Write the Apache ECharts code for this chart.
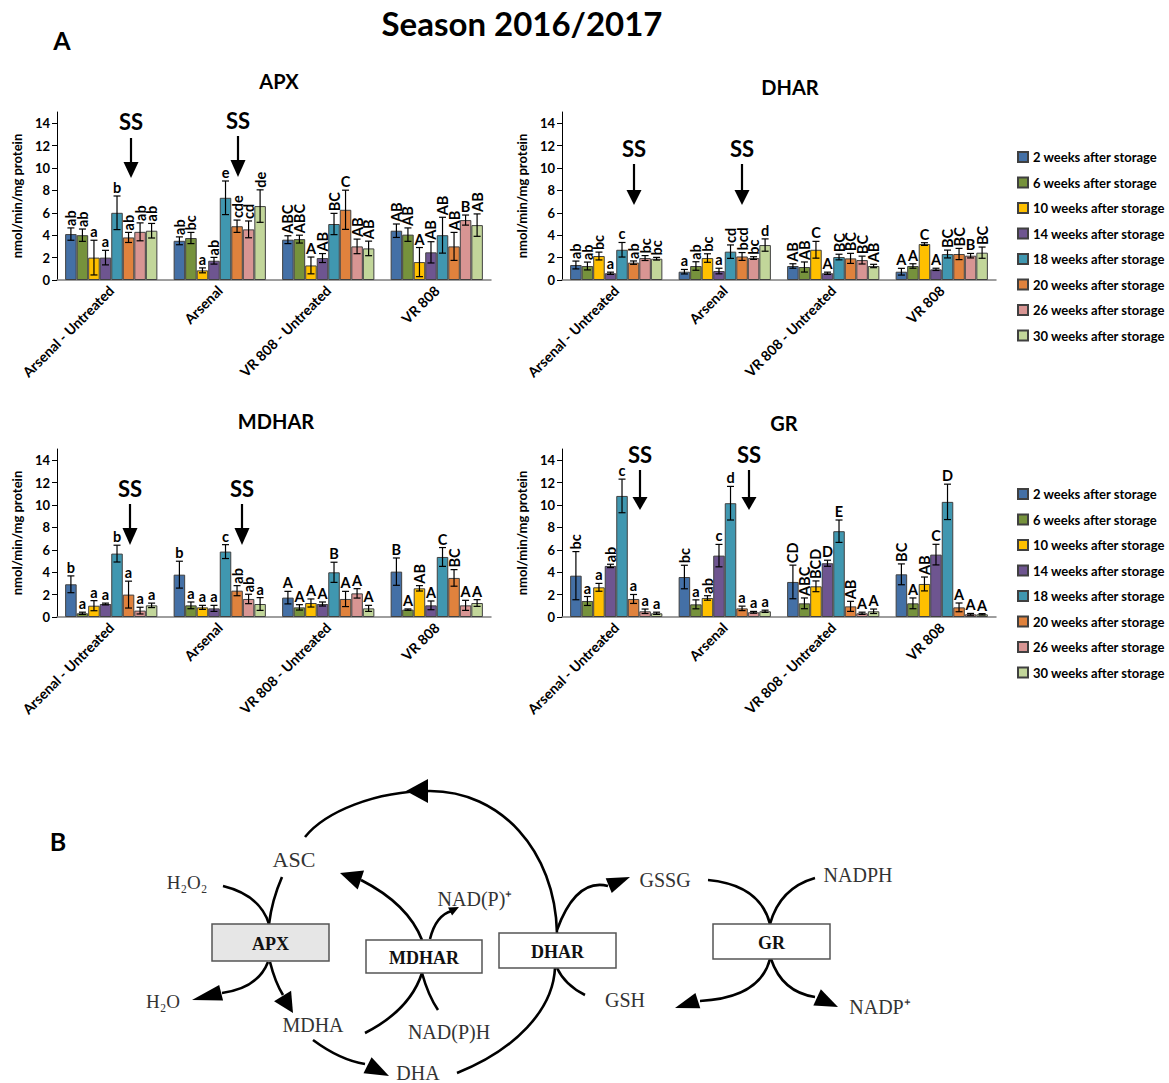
<!DOCTYPE html>
<html><head><meta charset="utf-8">
<script src="https://cdn.jsdelivr.net/npm/echarts@6/dist/echarts.min.js"></script>
<style>html,body{margin:0;padding:0;background:#fff}#c{width:1169px;height:1083px}</style>
</head><body><div id="c"></div><script>
// ---------- DATA ----------
const weeks = ['2 weeks after storage','6 weeks after storage','10 weeks after storage','14 weeks after storage','18 weeks after storage','20 weeks after storage','26 weeks after storage','30 weeks after storage'];
const groups = ['Arsenal - Untreated','Arsenal','VR 808 - Untreated','VR 808'];
const yTicks = [0,2,4,6,8,10,12,14];

// rows = weeks, columns = groups
const apxMean = [[4.1,3.5,3.6,4.4],[4.0,3.75,3.65,4.05],[2.0,0.86,1.3,1.6],[2.0,1.72,1.96,2.47],[6.0,7.34,5.0,4.0],[3.8,4.8,6.27,3.0],[4.3,4.52,3.0,5.35],[4.4,6.6,2.82,4.9]];
const apxErr = [[0.55,0.35,0.35,0.6],[0.55,0.5,0.35,0.6],[1.55,0.22,0.75,1.3],[0.65,0.3,0.4,0.95],[1.5,1.5,0.95,1.6],[0.45,0.55,1.75,1.25],[0.8,0.75,0.65,0.45],[0.65,1.45,0.65,1.0]];
const apxLetters = [['ab','ab','ABC','AB'],['ab','bc','ABC','AB'],['a','a','A','A'],['a','ab','AB','AB'],['b','e','BC','AB'],['ab','cde','C','AB'],['ab','cd','AB','B'],['ab','de','AB','AB']];

const dharMean = [[1.34,0.74,1.25,0.74],[1.25,1.25,1.16,1.25],[2.14,1.96,2.7,3.21],[0.6,0.8,0.6,0.95],[2.7,2.53,2.05,2.32],[1.55,2.1,1.93,2.32],[1.96,1.96,1.78,2.17],[1.9,3.12,1.25,2.44]];
const dharErr = [[0.35,0.2,0.2,0.3],[0.35,0.38,0.45,0.2],[0.35,0.38,0.75,0.12],[0.1,0.25,0.1,0.1],[0.65,0.6,0.25,0.35],[0.15,0.35,0.45,0.5],[0.22,0.12,0.35,0.2],[0.12,0.55,0.15,0.5]];
const dharLetters = [['ab','a','AB','A'],['ab','ab','AB','A'],['bc','bc','C','C'],['a','a','A','A'],['c','cd','BC','BC'],['ab','bcd','BC','BC'],['bc','bc','BC','B'],['bc','d','AB','BC']];

const mdharMean = [[2.92,3.78,1.73,4.05],[0.33,1.04,0.86,0.66],[1.01,0.86,1.25,2.56],[1.16,0.77,1.16,1.04],[5.66,5.84,3.99,5.36],[2.0,2.35,1.61,3.49],[0.57,1.61,2.11,1.04],[1.04,1.16,0.77,1.25]];
const mdharErr = [[0.75,1.2,0.56,1.22],[0.1,0.3,0.24,0.06],[0.45,0.18,0.36,0.24],[0.08,0.27,0.18,0.39],[0.75,0.62,0.9,0.84],[1.2,0.45,0.68,0.74],[0.3,0.42,0.42,0.45],[0.2,0.57,0.27,0.3]];
const mdharLetters = [['b','b','A','B'],['a','a','A','A'],['a','a','A','AB'],['a','a','A','A'],['b','c','B','C'],['a','ab','A','BC'],['a','ab','A','A'],['a','a','A','A']];

const grMean = [[3.69,3.57,3.13,3.81],[1.43,1.13,1.22,1.22],[2.65,1.7,2.74,2.95],[4.56,5.48,4.8,5.57],[10.81,10.16,7.66,10.28],[1.61,0.77,0.95,0.86],[0.51,0.42,0.33,0.24],[0.33,0.51,0.51,0.24]];
const grErr = [[2.15,1.05,1.5,0.93],[0.4,0.4,0.48,0.48],[0.35,0.2,0.48,0.62],[0.15,1.0,0.27,0.92],[1.5,1.5,1.0,1.58],[0.4,0.2,0.45,0.39],[0.2,0.08,0.1,0.08],[0.1,0.1,0.2,0.06]];
const grLetters = [['bc','bc','CD','BC'],['a','a','ABC','A'],['a','ab','BCD','AB'],['ab','c','D','C'],['c','d','E','D'],['a','a','AB','A'],['a','a','A','A'],['a','a','A','A']];

// ---------- STYLE ----------
const colors = ['#4470A6','#76923C','#FFC000','#6E5590','#4097B0','#E0823D','#D89593','#C2D69A'];
const SANS = 'Lato';
const SERIF = 'Liberation Serif';
const BAR_FRAC = 0.85;

const panels = [
  {title:'APX', mean:apxMean, err:apxErr, letters:apxLetters, left:57, top:112, tx:279, ty:81, ss:[[131,121,138,162,178],[238,120,136,160,177]]},
  {title:'DHAR', mean:dharMean, err:dharErr, letters:dharLetters, left:562, top:112, tx:790, ty:87, ss:[[634,148,164,190,205],[742,148,164,190,205]]},
  {title:'MDHAR', mean:mdharMean, err:mdharErr, letters:mdharLetters, left:57, top:449, tx:276, ty:421, ss:[[130,488,504,528,545],[242,488,504,528,545]]},
  {title:'GR', mean:grMean, err:grErr, letters:grLetters, left:562, top:449, tx:784, ty:423, ss:[[640,454,470,497,510],[749,454,470,497,510]]}
];

const grids = [], xAxes = [], yAxes = [], series = [], graphics = [];

panels.forEach((p, gi) => {
  grids.push({left:p.left, top:p.top, width:434, height:168});
  xAxes.push({type:'category', gridIndex:gi, data:groups,
    axisLine:{show:true, lineStyle:{color:'#7f7f7f', width:1.5}},
    axisTick:{show:false},
    axisLabel:{rotate:45, interval:0, margin:8, fontFamily:SANS, fontWeight:'bold', fontSize:14, color:'#000'}});
  yAxes.push({type:'value', gridIndex:gi, min:0, max:15,
    name:'nmol/min/mg protein', nameLocation:'middle', nameGap:34,
    nameTextStyle:{fontFamily:SANS, fontWeight:'bold', fontSize:13, color:'#000'},
    splitLine:{show:false},
    axisLine:{show:true, lineStyle:{color:'#000', width:1}},
    axisTick:{show:true, length:5, lineStyle:{color:'#000'}, customValues:yTicks},
    axisLabel:{fontFamily:SANS, fontWeight:'bold', fontSize:13, color:'#000', margin:7, customValues:yTicks}});
  weeks.forEach((w, wi) => {
    series.push({type:'bar', name:w, xAxisIndex:gi, yAxisIndex:gi, data:p.mean[wi],
      barGap:'0%', barCategoryGap:'15%', animation:false,
      itemStyle:{color:colors[wi], borderColor:'#404040', borderWidth:1}});
  });
  const eb = [], lab = [];
  weeks.forEach((w, wi) => groups.forEach((g, ci) => { eb.push([ci, p.mean[wi][ci], p.err[wi][ci], wi]); lab.push(p.letters[wi][ci]); }));
  series.push({type:'custom', xAxisIndex:gi, yAxisIndex:gi, data:eb, z:5, animation:false, silent:true,
    encode:{x:0, y:1},
    renderItem:(params, api) => {
      const ci = api.value(0), m = api.value(1), e = api.value(2), wi = api.value(3);
      const band = api.size([1,0])[0];
      const bw = band * BAR_FRAC / 8;
      const c = api.coord([ci, m]);
      const cx = c[0] + (wi - 3.5) * bw;
      const yT = api.coord([ci, m + e])[1];
      const yB = api.coord([ci, Math.max(m - e, 0)])[1];
      const ls = {stroke:'#000', lineWidth:1.2};
      const txt = lab[params.dataIndex];
      const textEl = txt.length > 1 ?
        {type:'text', x:cx, y:yT - 2, rotation:Math.PI/2, style:{text:txt, fill:'#000', fontFamily:SANS, fontWeight:'bold', fontSize:14.5, align:'left', verticalAlign:'middle'}} :
        {type:'text', x:cx, y:yT - 1, style:{text:txt, fill:'#000', fontFamily:SANS, fontWeight:'bold', fontSize:14.5, align:'center', verticalAlign:'bottom'}};
      return {type:'group', children:[
        {type:'line', shape:{x1:cx, y1:yT, x2:cx, y2:yB}, style:ls},
        {type:'line', shape:{x1:cx-3.5, y1:yT, x2:cx+3.5, y2:yT}, style:ls},
        {type:'line', shape:{x1:cx-3.5, y1:yB, x2:cx+3.5, y2:yB}, style:ls},
        textEl
      ]};
    }});
  // panel title
  graphics.push({type:'text', x:p.tx, y:p.ty, style:{text:p.title, fill:'#000', fontFamily:SANS, fontWeight:'bold', fontSize:20, align:'center', verticalAlign:'middle'}});
  // SS annotations
  p.ss.forEach(s => {
    const [x, ty, l1, l2, h2] = s;
    graphics.push({type:'text', x:x, y:ty, style:{text:'SS', fill:'#000', fontFamily:SANS, fontWeight:'bold', fontSize:22, align:'center', verticalAlign:'middle'}});
    graphics.push({type:'line', shape:{x1:x, y1:l1, x2:x, y2:l2+1}, style:{stroke:'#000', lineWidth:2.2}});
    graphics.push({type:'polygon', shape:{points:[[x-7.5,l2],[x+7.5,l2],[x,h2]]}, style:{fill:'#000'}});
  });
});

// headings
graphics.push({type:'text', x:522, y:23, style:{text:'Season 2016/2017', fill:'#000', fontFamily:SANS, fontWeight:'bold', fontSize:33, align:'center', verticalAlign:'middle'}});
graphics.push({type:'text', x:62, y:40, style:{text:'A', fill:'#000', fontFamily:SANS, fontWeight:'bold', fontSize:25, align:'center', verticalAlign:'middle'}});
graphics.push({type:'text', x:58, y:841, style:{text:'B', fill:'#000', fontFamily:SANS, fontWeight:'bold', fontSize:25, align:'center', verticalAlign:'middle'}});

// ---------- DIAGRAM B ----------
const LW = 2.6;
function curve(x1,y1,cx1,cy1,x2,y2,cx2,cy2){
  const shape = cx2 === undefined ? {x1,y1,cpx1:cx1,cpy1:cy1,x2,y2} : {x1,y1,cpx1:cx1,cpy1:cy1,cpx2:cx2,cpy2:cy2,x2,y2};
  graphics.push({type:'bezierCurve', shape, style:{stroke:'#000', lineWidth:LW, fill:null}});
}
function head(tx,ty,fx,fy,len,hw){
  const dx = tx-fx, dy = ty-fy, d = Math.hypot(dx,dy), ux = dx/d, uy = dy/d;
  const bx = tx-ux*len, by = ty-uy*len;
  graphics.push({type:'polygon', shape:{points:[[tx,ty],[bx-uy*hw,by+ux*hw],[bx+uy*hw,by-ux*hw]]}, style:{fill:'#000'}});
}
function box(x,y,w,h,label,fill){
  graphics.push({type:'rect', shape:{x,y,width:w,height:h}, style:{fill:fill, stroke:'#555', lineWidth:1.5}, z:10});
  graphics.push({type:'text', x:x+w/2, y:y+h/2+1, z:11, style:{text:label, fill:'#111', fontFamily:SERIF, fontWeight:'bold', fontSize:18, align:'center', verticalAlign:'middle'}});
}
function label(x,y,t,fs){
  graphics.push({type:'text', x, y, style:{text:t, fill:'#333', fontFamily:SERIF, fontSize:fs||20, align:'center', verticalAlign:'middle'}});
}
// big loop
curve(457,1073, 515,1050, 555,968, 553,1010);
graphics.push({type:'line', shape:{x1:555,y1:968,x2:557,y2:933}, style:{stroke:'#000', lineWidth:LW}});
curve(557,933, 555,850, 430,791, 500,791);
curve(430,791, 375,791, 305,837, 325,812);
head(406,791, 428,791, 22,12);
// APX
curve(223,886, 260,895, 269,924);
curve(282,877, 272,900, 269,924);
curve(268,962, 258,988, 222,993);
head(192,1000, 224,992, 30,8);
curve(270,962, 275,982, 283,995);
head(293,1013, 282,995, 20,10);
curve(313,1040, 340,1060, 365,1064);
head(389,1076, 363,1063, 24,9);
// MDHAR
curve(422,940, 408,904, 361,880);
head(340,873, 361,880, 22,10);
curve(430,939, 436,915, 452,911);
head(459,907, 451,911, 10,4.5);
curve(422,973, 410,1010, 365,1033);
curve(422,973, 428,995, 438,1010);
// DHAR
curve(557,930, 576,878, 608,886);
head(630,877, 608,886, 23,8);
curve(557,968, 565,985, 585,995);
// GR
curve(708,880, 760,885, 770,924);
curve(815,878, 780,888, 770,924);
curve(770,959, 760,998, 700,1001);
head(675,1008, 700,1000, 24,8);
curve(771,959, 782,992, 815,997);
head(838,1007, 814,996, 23,9);
// boxes
box(212,924,117,37,'APX','#e6e6e6');
box(366,940,116,33,'MDHAR','#fff');
box(499,933,117,35,'DHAR','#fff');
box(713,924,117,35,'GR','#fff');
// labels
label(294,859,'ASC',22);
label(187,882,'H\u2082O\u2082',19);
label(163,1001,'H\u2082O',19);
label(313,1025,'MDHA',20);
label(418,1073,'DHA',20);
label(475,899,'NAD(P)\u207A',20);
label(449,1032,'NAD(P)H',20);
label(665,880,'GSSG',20);
label(625,1000,'GSH',20);
label(858,875,'NADPH',20);
label(880,1007,'NADP\u207A',20);

const legendBase = {orient:'vertical', left:1012, itemWidth:10, itemHeight:10, itemGap:11.5, icon:'rect', selectedMode:false,
  textStyle:{fontFamily:SANS, fontWeight:'bold', fontSize:13, color:'#000', lineHeight:14}, data:weeks};

const option = {
  animation:false,
  backgroundColor:'#fff',
  grid:grids, xAxis:xAxes, yAxis:yAxes, series,
  legend:[Object.assign({top:145}, legendBase), Object.assign({top:482}, legendBase)],
  graphic:graphics
};
const chart = echarts.init(document.getElementById('c'), null, {renderer:'svg'});
chart.setOption(option);
</script></body></html>
